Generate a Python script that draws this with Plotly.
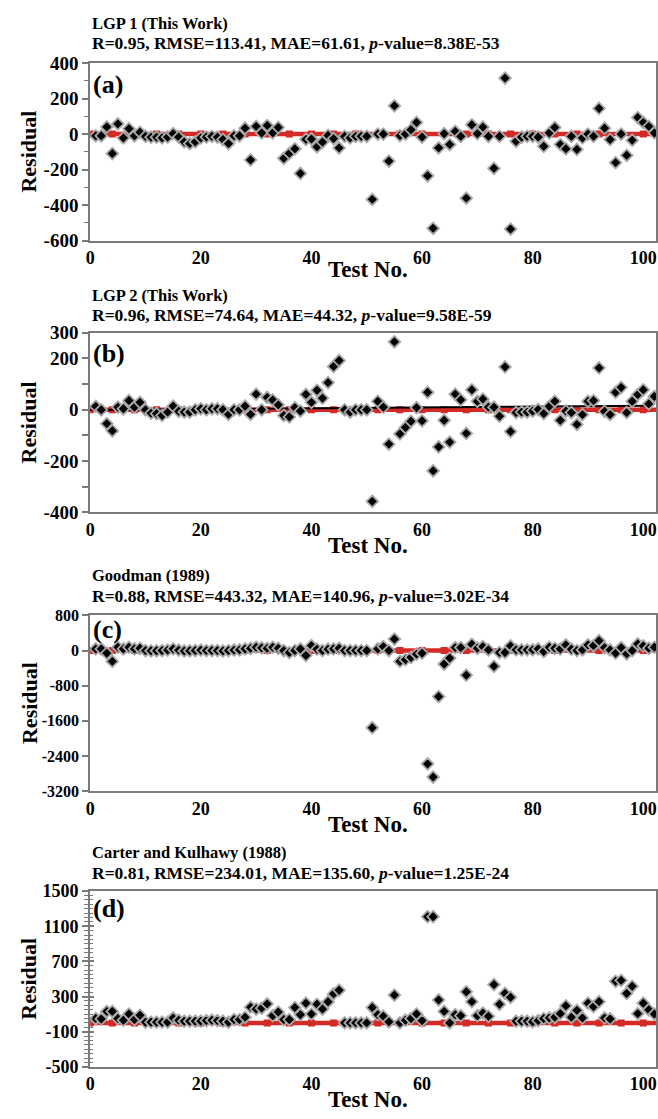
import plotly.graph_objects as go

# ---------------- data ----------------
test_no = list(range(1, 103))

resid_lgp1 = [-10, -10, 40, -110, 57, -22, 30, -10, 10, -13,
              -18, -18, -22, -17, 2, -17, -44, -54, -44, -22,
              -17, -13, -18, -31, -54, -10, -10, 33, -146, 43,
              6, 48, 7, 37, -137, -109, -83, -222, -30, -28,
              -72, -45, -8, -26, -78, -13, -22, -13, -13, -13,
              -368, 0, 0, -152, 159, -9, 0, 24, 65, -17,
              -235, -531, -78, 2, -59, 15, -13, -361, 52, 2,
              39, -13, -193, -13, 315, -535, -41, -18, -13, -13,
              -17, -69, 6, 37, -59, -83, -13, -87, -22, 0,
              -13, 144, 33, -31, -161, 0, -120, -35, 93, 65,
              43, 6]

resid_lgp2 = [13, 0, -54, -82, 10, 4, 36, 10, 29, 0,
              -13, -15, -22, -9, 14, -6, -9, -9, 0, 4,
              0, 4, 4, 0, -18, 0, 0, 14, -18, 61,
              0, 48, 38, 19, -22, -28, 8, -5, 60, 29,
              76, 45, 106, 169, 192, 0, -9, 0, 0, 0,
              -357, 33, 10, -134, 265, -94, -69, -45, 8, -43,
              68, -238, -145, -41, -126, 61, 39, -92, 78, 33,
              42, 10, 10, -25, 167, -85, -11, -9, -9, -5,
              1, -15, 13, 33, -41, -5, -11, -57, -19, 33,
              36, 163, -6, -19, 68, 87, -11, 33, 59, 78,
              23, 52]

resid_goodman = [37, 37, -60, -247, 75, 37, 75, 37, 52, 0,
                 -5, -5, 0, 10, 37, 10, -10, -5, 0, 10,
                 0, 0, 0, -10, 0, 10, 15, 37, 50, 75,
                 60, 50, 75, 52, 0, -45, 0, 37, -112, 112,
                 30, 0, 30, 37, 52, 0, 0, 0, 0, 0,
                 -1758, 37, 90, 0, 262, -247, -209, -157, -82, -60,
                 -2580, -2880, -1047, -307, -172, 67, 67, -561, 142, 52,
                 90, 15, -359, -45, -45, 105, 15, 15, 15, 15,
                 37, -22, 75, 52, 37, 127, 30, 0, 15, 127,
                 112, 224, 67, 15, -60, 67, -75, 0, 150, 105,
                 52, 75]

resid_carter = [49, 45, 131, 131, 49, 30, 101, 38, 86, 8,
                8, 8, 8, 8, 56, 30, 19, 19, 19, 19,
                26, 30, 26, 19, 8, 38, 38, 64, 179, 157,
                168, 216, 82, 123, 38, 38, 175, 93, 224, 101,
                212, 157, 240, 330, 372, 0, 0, 0, 0, 0,
                175, 93, 75, 12, 317, 0, 30, 49, 101, 26,
                1209, 1209, 261, 131, 0, 93, 82, 354, 242, 82,
                112, 75, 436, 212, 335, 291, 19, 19, 19, 12,
                26, 49, 56, 64, 105, 194, 64, 142, 56, 224,
                186, 242, 56, 45, 473, 484, 335, 417, 105, 224,
                149, 101]

# zero (perfect-fit) reference line and its square markers
zero_x = [0, 103]
zero_y = [0, 0]
zero_mark_x = list(range(0, 101, 4))
zero_mark_y = [0] * len(zero_mark_x)

# LGP 2 trend line
fit_x = [0, 101]
fit_y = [-1, 16]

titles1 = ["LGP 1 (This Work)", "LGP 2 (This Work)", "Goodman (1989)", "Carter and Kulhawy (1988)"]
titles2 = ["R=0.95, RMSE=113.41, MAE=61.61, <i>p</i>-value=8.38E-53",
           "R=0.96, RMSE=74.64, MAE=44.32, <i>p</i>-value=9.58E-59",
           "R=0.88, RMSE=443.32, MAE=140.96, <i>p</i>-value=3.02E-34",
           "R=0.81, RMSE=234.01, MAE=135.60, <i>p</i>-value=1.25E-24"]
panel_labels = ["(a)", "(b)", "(c)", "(d)"]
series = [resid_lgp1, resid_lgp2, resid_goodman, resid_carter]

y_ranges = [[-600, 400], [-400, 300], [-3200, 800], [-500, 1500]]
y_tickvals = [[-600, -400, -200, 0, 200, 400],
              [-400, -300, -200, -100, 0, 100, 200, 300],
              [-3200, -2400, -1600, -800, 0, 800],
              [-500, -100, 300, 700, 1100, 1500]]
y_ticktext = [["-600", "-400", "-200", "0", "200", "400"],
              ["-400", "", "-200", "", "0", "", "200", "300"],
              ["-3200", "-2400", "-1600", "-800", "0", "800"],
              ["-500", "-100", "300", "700", "1100", "1500"]]
y_minor = [100, None, None, 50]
x_ticks = [0, 20, 40, 60, 80, 100]

# ---------------- layout geometry (pixels) ----------------
W, H = 658, 1119
X0, X1 = 86, 657
panel_px = [(54, 235), (329, 512), (617, 796), (898, 1077)]
title_y = [(14, 33.5), (291, 310.5), (576, 597), (859, 879)]
label_y = [76, 350, 631, 916]
xtitle_y = [264, 546, 830, 1110]
ytick_size = [19, 19, 16, 18]

FONT = "Liberation Serif, Times New Roman, serif"
AXC = "#7a7a7a"
RED = "#d42a25"


def py(p):
    return 1 - p / H


fig = go.Figure()
annotations = []
layout = dict(width=W, height=H, margin=dict(l=0, r=0, t=0, b=0),
              paper_bgcolor="white", plot_bgcolor="white", showlegend=False,
              font=dict(family=FONT, color="black"))

for i in range(4):
    n = "" if i == 0 else str(i + 1)
    xa, ya = "x" + n, "y" + n
    top, bot = panel_px[i]
    fig.add_trace(go.Scatter(x=zero_x, y=zero_y, mode="lines", xaxis=xa, yaxis=ya,
                             line=dict(color=RED, width=4.5), hoverinfo="skip"))
    fig.add_trace(go.Scatter(x=zero_mark_x, y=zero_mark_y, mode="markers", xaxis=xa, yaxis=ya,
                             marker=dict(symbol="square", size=7, color=RED), hoverinfo="skip"))
    if i == 1:
        fig.add_trace(go.Scatter(x=fit_x, y=fit_y, mode="lines", xaxis=xa, yaxis=ya,
                                 line=dict(color="black", width=2), hoverinfo="skip"))
    fig.add_trace(go.Scatter(x=test_no, y=series[i], mode="markers", xaxis=xa, yaxis=ya,
                             marker=dict(symbol="diamond", size=9, color="black",
                                         line=dict(color="#a8a8a8", width=1.8))))

    layout["xaxis" + n] = dict(domain=[X0 / W, X1 / W], anchor=ya, range=[0, 102.3],
                               tickvals=x_ticks, ticks="",
                               showline=True, linecolor=AXC, linewidth=2, mirror=True,
                               showgrid=False, zeroline=False,
                               tickfont=dict(family=FONT, size=18, color="black", weight="bold"))
    yax = dict(domain=[py(bot), py(top)], anchor=xa, range=y_ranges[i],
               tickvals=y_tickvals[i], ticktext=y_ticktext[i],
               ticks="outside", ticklen=6, tickwidth=1.5, tickcolor=AXC,
               showline=True, linecolor=AXC, linewidth=2, mirror=True,
               showgrid=False, zeroline=False,
               tickfont=dict(family=FONT, size=ytick_size[i], color="black", weight="bold"))
    if y_minor[i]:
        yax["minor"] = dict(dtick=y_minor[i], ticks="outside", ticklen=4, tickcolor=AXC,
                            tickwidth=1.2, showgrid=False)
    layout["yaxis" + n] = yax

    annotations += [
        dict(text=titles1[i], x=87 / W, y=py(title_y[i][0]), xref="paper", yref="paper",
             xanchor="left", yanchor="middle", showarrow=False, borderpad=0,
             font=dict(family=FONT, size=16.5, color="black", weight="bold")),
        dict(text=titles2[i], x=87 / W, y=py(title_y[i][1]), xref="paper", yref="paper",
             xanchor="left", yanchor="middle", showarrow=False, borderpad=0,
             font=dict(family=FONT, size=17.5, color="black", weight="bold")),
        dict(text=panel_labels[i], x=87 / W, y=py(label_y[i]), xref="paper", yref="paper",
             xanchor="left", yanchor="middle", showarrow=False,
             font=dict(family=FONT, size=26, color="black", weight="bold")),
        dict(text="Residual", x=24 / W, y=py((top + bot) / 2), xref="paper", yref="paper",
             xanchor="center", yanchor="middle", textangle=-90, showarrow=False,
             font=dict(family=FONT, size=22, color="black", weight="bold")),
        dict(text="Test No.", x=366 / W, y=py(xtitle_y[i]), xref="paper", yref="paper",
             xanchor="center", yanchor="middle", showarrow=False,
             font=dict(family=FONT, size=23, color="black", weight="bold")),
    ]

# inner (crossing) ticks for panel (d)
top, bot = panel_px[3]
layout["yaxis5"] = dict(domain=[py(bot), py(top)], anchor="x4", overlaying="y4", side="left",
                        range=y_ranges[3], tickvals=y_tickvals[3], showticklabels=False,
                        ticks="inside", ticklen=4, tickwidth=1.5, tickcolor=AXC,
                        minor=dict(dtick=50, ticks="inside", ticklen=3, tickcolor=AXC,
                                   tickwidth=1.2, showgrid=False),
                        showline=False, showgrid=False, zeroline=False)
fig.add_trace(go.Scatter(x=[], y=[], xaxis="x4", yaxis="y5", hoverinfo="skip"))

layout["annotations"] = annotations
fig.update_layout(**layout)
css = ("var s=document.createElement('style');"
       "s.innerHTML='html,body{margin:0!important;padding:0!important;overflow:hidden!important;}';"
       "document.head.appendChild(s);")
fig.write_html("out.html", config={"displayModeBar": False}, post_script=css)
